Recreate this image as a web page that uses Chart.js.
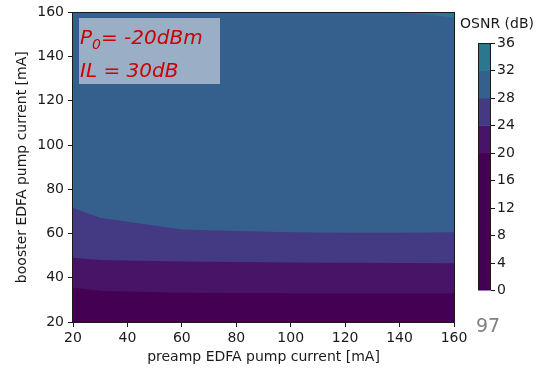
<!DOCTYPE html>
<html>
<head>
<meta charset="utf-8">
<script src="https://cdn.jsdelivr.net/npm/chart.js@4"></script>
<style>
  html, body { margin: 0; padding: 0; background: #fff; }
  #wrap { width: 541px; height: 369px; position: relative; }
</style>
</head>
<body>
<div id="wrap"><canvas id="osnrChart"></canvas></div>
<script>
// preamp current grid [mA] and the booster current where each OSNR contour sits
const preampCurrent = [20, 30, 40, 60, 80, 100, 120, 140, 160];
const contour20 = [35.5, 34.1, 33.8, 33.2, 33.1, 33.0, 33.0, 33.0, 33.0];
const contour24 = [49.0, 48.0, 47.8, 47.4, 47.1, 46.9, 46.8, 46.7, 46.6];
const contour28 = [71.5, 67.1, 65.3, 61.8, 61.1, 60.6, 60.4, 60.4, 60.6];
// the 32 dB contour only dips in at the top right corner
const contour32X = [132, 145, 160];
const contour32 = [160, 159.5, 157.7];
const topX = [20, 160];
const topY = [160, 160];

const bandLevels = [0, 20, 24, 28, 32, 36];
const bandColors = ['#440154', '#481467', '#443983', '#355f8d', '#2a788e'];
const colorbarTicks = [0, 4, 8, 12, 16, 20, 24, 28, 32, 36];
const xTicks = [20, 40, 60, 80, 100, 120, 140, 160];
const yTicks = [20, 40, 60, 80, 100, 120, 140, 160];

const FONT = "'DejaVu Sans', sans-serif";
const FS = 14;
const INK = '#1a1a1a';

function pts(xa, ya) {
  return xa.map((x, i) => ({x: x, y: ya[i]}));
}

// bands below 32 dB are filled down to the axis bottom, the 32+ band up to the top;
// index 0 is drawn last (on top)
const datasets = [
  {data: pts(preampCurrent, contour20), backgroundColor: bandColors[0], fill: 'start'},
  {data: pts(preampCurrent, contour24), backgroundColor: bandColors[1], fill: 'start'},
  {data: pts(preampCurrent, contour28), backgroundColor: bandColors[2], fill: 'start'},
  {data: pts(contour32X, contour32), backgroundColor: bandColors[4], fill: 'end'},
  {data: pts(topX, topY), backgroundColor: bandColors[3], fill: 'start'}
].map(d => Object.assign(d, {
  borderWidth: 0,
  borderColor: 'rgba(0,0,0,0)',
  pointRadius: 0,
  tension: 0
}));

const decorPlugin = {
  id: 'decorPlugin',
  afterDraw(chart) {
    const ctx = chart.ctx;
    const a = chart.chartArea;
    ctx.save();
    // full frame round the axes, snapped to whole pixels
    const fl = Math.floor(a.left) - 0.5, ft = Math.floor(a.top) + 0.5;
    const fr = Math.round(a.right) + 0.5, fb = Math.round(a.bottom) + 0.5;
    ctx.strokeStyle = INK;
    ctx.lineWidth = 1;
    ctx.strokeRect(fl, ft, fr - fl, fb - ft);

    // annotation box
    ctx.fillStyle = 'rgba(255,255,255,0.5)';
    ctx.fillRect(79, 18, 141, 66);
    ctx.fillStyle = '#cc0000';
    ctx.textBaseline = 'alphabetic';
    ctx.textAlign = 'left';
    ctx.font = 'italic 20px ' + FONT;
    let tx = 80;
    ctx.fillText('P', tx, 44);
    tx += ctx.measureText('P').width;
    ctx.font = 'italic 14px ' + FONT;
    ctx.fillText('0', tx, 49);
    tx += ctx.measureText('0').width;
    ctx.font = 'italic 20px ' + FONT;
    ctx.fillText('= -20dBm', tx, 44);
    ctx.fillText('IL = 30dB', 80, 76.5);

    // colorbar
    const cbL = 478, cbR = 491, cbT = 43, cbB = 290;
    const vMin = bandLevels[0], vMax = bandLevels[bandLevels.length - 1];
    const yOf = v => cbB - (v - vMin) / (vMax - vMin) * (cbB - cbT);
    for (let i = 0; i < bandColors.length; i++) {
      const y1 = yOf(bandLevels[i + 1]);
      const y0 = yOf(bandLevels[i]);
      ctx.fillStyle = bandColors[i];
      ctx.fillRect(cbL, y1, cbR - cbL, y0 - y1 + 0.5);
    }
    ctx.strokeStyle = INK;
    ctx.strokeRect(cbL + 0.5, cbT + 0.5, cbR - cbL - 1, cbB - cbT - 1);
    ctx.font = FS + 'px ' + FONT;
    ctx.fillStyle = INK;
    ctx.textBaseline = 'middle';
    colorbarTicks.forEach(v => {
      const y = Math.round(yOf(v)) + 0.5;
      ctx.beginPath();
      ctx.moveTo(cbR, y);
      ctx.lineTo(cbR + 4, y);
      ctx.stroke();
      ctx.fillText(String(v), cbR + 6, y);
    });
    ctx.textAlign = 'center';
    ctx.fillText('OSNR (dB)', 497, 24);

    // page number
    ctx.font = '19px ' + FONT;
    ctx.fillStyle = '#808080';
    ctx.textAlign = 'left';
    ctx.textBaseline = 'alphabetic';
    ctx.fillText('97', 476, 332);
    ctx.restore();
  }
};

const axisCommon = {
  type: 'linear',
  min: 20,
  max: 160,
  grid: {display: true, drawOnChartArea: false, drawTicks: true, tickLength: 5, color: INK},
  border: {display: true, color: INK},
  ticks: {color: INK, font: {family: FONT, size: FS}, stepSize: 20},
  title: {display: true, color: INK, font: {family: FONT, size: FS}}
};

new Chart(document.getElementById('osnrChart'), {
  type: 'line',
  data: {datasets: datasets},
  plugins: [decorPlugin],
  options: {
    responsive: true,
    maintainAspectRatio: false,
    animation: false,
    layout: {padding: {top: 12, right: 87, left: 0, bottom: 0}},
    plugins: {legend: {display: false}, tooltip: {enabled: false}},
    scales: {
      x: Object.assign({}, axisCommon, {
        position: 'bottom',
        afterBuildTicks: s => { s.ticks = xTicks.map(v => ({value: v})); },
        afterFit: s => { s.height = 47; },
        ticks: Object.assign({}, axisCommon.ticks, {padding: 3, maxRotation: 0}),
        title: Object.assign({}, axisCommon.title, {text: 'preamp EDFA pump current [mA]', padding: {top: 0, bottom: 3}})
      }),
      y: Object.assign({}, axisCommon, {
        position: 'left',
        afterBuildTicks: s => { s.ticks = yTicks.map(v => ({value: v})); },
        afterFit: s => { s.width = 73; },
        ticks: Object.assign({}, axisCommon.ticks, {padding: 4}),
        title: Object.assign({}, axisCommon.title, {text: 'booster EDFA pump current [mA]', padding: {top: 14, bottom: 0}})
      })
    }
  }
});
</script>
</body>
</html>
